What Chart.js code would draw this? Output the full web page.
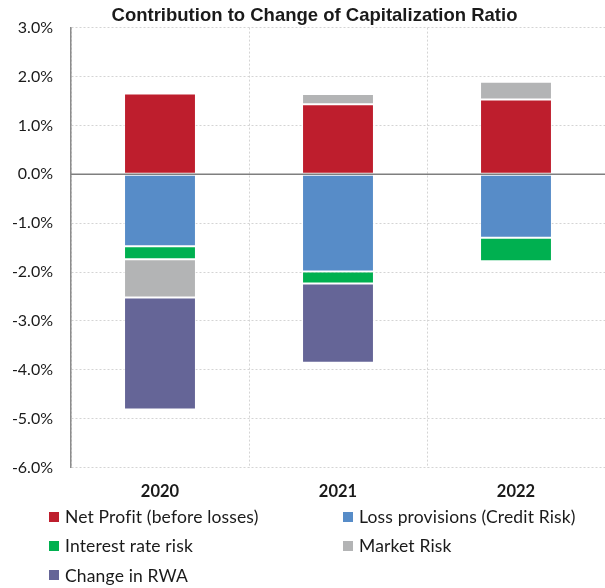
<!DOCTYPE html>
<html>
<head>
<meta charset="utf-8">
<script src="https://cdn.jsdelivr.net/npm/chart.js@4.4.1/dist/chart.umd.min.js"></script>
<style>
  html, body { margin: 0; padding: 0; background: #fff; }
  #wrap { position: relative; width: 605px; height: 588px; overflow: hidden; }
  #chartBox { position: absolute; left: 0; top: 0; width: 605px; height: 505px; }
  #title { position: absolute; left: 24px; width: 581px; top: 4px; height: 22px; line-height: 22px;
           text-align: center; font-family: "Liberation Sans", Arial, sans-serif; font-size: 18.5px;
           font-weight: bold; color: #1a1a1a; white-space: nowrap; }
  #legend { position: absolute; left: 0; top: 0; width: 605px; height: 588px; pointer-events: none;
            font-family: Lato, "Liberation Sans", sans-serif; font-size: 17.5px; letter-spacing: 0.15px; color: #1a1a1a; }
  .item { position: absolute; display: flex; align-items: center; white-space: nowrap; height: 22px; }
  .box { width: 10px; height: 10px; margin-right: 6px; flex: none; }
</style>
</head>
<body>
<div id="wrap">
  <div id="chartBox"><canvas id="c"></canvas></div>
  <div id="title"></div>
  <div id="legend"></div>
</div>
<script>
const chartTitle = "Contribution to Change of Capitalization Ratio";
const categories = ["2020", "2021", "2022"];
const netProfit = [1.65, 1.43, 1.53];
const lossProvisions = [-1.47, -1.99, -1.30];
const interestRateRisk = [-0.27, -0.245, -0.48];
const marketRisk = [-0.78, 0.21, 0.36];
const changeInRWA = [-2.29, -1.62, 0.02];
const seriesNames = ["Net Profit (before losses)", "Loss provisions (Credit Risk)", "Interest rate risk", "Market Risk", "Change in RWA"];
const seriesColors = ["#BE1E2D", "#578CC8", "#00B050", "#B3B4B5", "#656597"];
const yTicks = [3, 2, 1, 0, -1, -2, -3, -4, -5, -6];

document.getElementById('title').textContent = chartTitle;

const seriesData = [netProfit, lossProvisions, interestRateRisk, marketRisk, changeInRWA];
const datasets = seriesData.map((d, i) => ({
  label: seriesNames[i],
  data: d,
  backgroundColor: seriesColors[i],
  borderColor: 'rgba(255,255,255,0.55)',
  borderWidth: 1,
  borderSkipped: false,
  stack: 's',
  barPercentage: 0.404,
  categoryPercentage: 1.0
}));

const zeroLine = {
  id: 'zeroLine',
  afterDatasetsDraw(chart) {
    const y = chart.scales.y.getPixelForValue(0);
    const a = chart.chartArea;
    const ctx = chart.ctx;
    ctx.save();
    ctx.strokeStyle = '#7f7f7f';
    ctx.lineWidth = 1.5;
    ctx.beginPath();
    ctx.moveTo(a.left, y);
    ctx.lineTo(a.right, y);
    ctx.stroke();
    ctx.restore();
  }
};

new Chart(document.getElementById('c'), {
  type: 'bar',
  data: { labels: categories, datasets },
  options: {
    responsive: true,
    maintainAspectRatio: false,
    animation: false,
    layout: { padding: { left: 4, right: 0, top: 27.3, bottom: 0 } },
    plugins: {
      legend: { display: false },
      tooltip: { enabled: false },
      title: { display: false }
    },
    scales: {
      x: {
        stacked: true,
        afterFit(scale) { scale.height = 37.4; },
        grid: { display: true, offset: true, color: '#d4d4d4', drawTicks: false, lineWidth: 1 },
        border: { display: false, dash: [2, 2] },
        ticks: { color: '#1a1a1a', font: { family: 'Lato', size: 16.5, weight: 'bold' }, padding: 14 }
      },
      y: {
        stacked: true,
        min: -6, max: 3,
        afterBuildTicks(scale) { scale.ticks = yTicks.map(v => ({ value: v })); },
        afterFit(scale) { scale.width = 67; },
        grid: { color: '#d4d4d4', drawTicks: false, lineWidth: 1 },
        border: { display: true, color: '#8c8c8c', width: 1.5, dash: [2, 2] },
        ticks: {
          color: '#1a1a1a',
          font: { family: 'Lato', size: 16 },
          padding: 18,
          callback: v => Number(v).toFixed(1) + '%'
        }
      }
    }
  },
  plugins: [zeroLine]
});

const legendPos = [[49, 516.7], [343, 516.7], [49, 545.5], [343, 545.5], [49, 575]];
const lg = document.getElementById('legend');
seriesNames.forEach((name, i) => {
  const it = document.createElement('div');
  it.className = 'item';
  it.style.left = legendPos[i][0] + 'px';
  it.style.top = (legendPos[i][1] - 11) + 'px';
  const b = document.createElement('span');
  b.className = 'box';
  b.style.background = seriesColors[i];
  const t = document.createElement('span');
  t.textContent = name;
  it.appendChild(b); it.appendChild(t);
  lg.appendChild(it);
});
</script>
</body>
</html>
